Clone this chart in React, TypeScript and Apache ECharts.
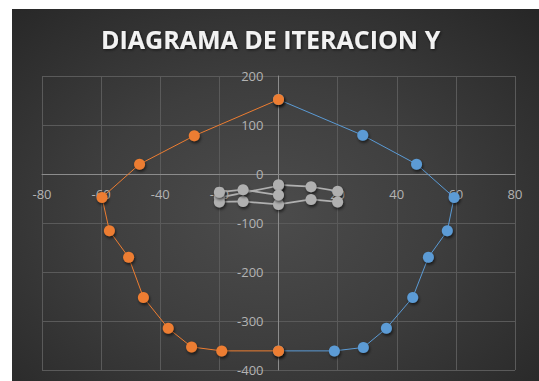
import React, { useEffect, useRef } from "react";
import * as echarts from "echarts";

const titleText = "DIAGRAMA DE ITERACION Y";

const blueX = [0, 28.5, 46.7, 59.4, 57.1, 50.7, 45.4, 36.5, 28.7, 18.9, 0];
const blueY = [152, 79, 20, -48, -116, -170, -252, -315, -354, -361, -361];

const orangeX = [0, -28.5, -47, -59.7, -57.2, -50.7, -45.7, -37.3, -29.4, -19.2, 0];
const orangeY = [152, 78, 20, -48, -116, -170, -252, -315, -353, -361, -361];

const grayAX = [0, 11, 20, 20, 11, 0, -12, -20, -20, -12, 0];
const grayAY = [-22, -26, -35, -57, -52, -62, -56, -57, -37, -32, -43];

const grayBX = [-20, 0];
const grayBY = [-48, -24];

const xMin = -80, xMax = 80, xStep = 20;
const yMin = -400, yMax = 200, yStep = 100;

const zip = (xs: number[], ys: number[]) => xs.map((x, i) => [x, ys[i]]);

export default function App() {
  const ref = useRef<HTMLDivElement>(null);
  useEffect(() => {
    if (!ref.current) return;
    const chart = echarts.init(ref.current, null, { renderer: "svg" });
    const W = 527, H = 372;
    const gl = 30, gr = 24, gt = 67, gb = 11;
    const gw = W - gl - gr, gh = H - gt - gb;
    // move axes (with labels) to the zero of the other axis
    const xOffset = -(gh * (0 - yMin) / (yMax - yMin));
    const yOffset = -(gw * (0 - xMin) / (xMax - xMin));
    const markerShadow = {
      shadowBlur: 3,
      shadowColor: "rgba(0,0,0,0.6)",
      shadowOffsetX: 1,
      shadowOffsetY: 2,
    };
    const mk = (name: string, data: number[][], color: string, lw: number, z: number) => ({
      name,
      type: "line",
      data,
      symbol: "circle",
      symbolSize: 11,
      z,
      lineStyle: { color, width: lw },
      itemStyle: { color, ...markerShadow },
    });
    const labelStyle = {
      color: "#B3B3B3",
      fontFamily: "Open Sans",
      fontSize: 13,
    };
    chart.setOption({
      animation: false,
      backgroundColor: "transparent",
      title: {
        text: titleText,
        left: 84,
        top: 12,
        textStyle: {
          color: "#F2F2F2",
          fontFamily: "Open Sans",
          fontWeight: "bold",
          fontSize: 25,
          textShadowColor: "rgba(0,0,0,0.6)",
          textShadowBlur: 3,
          textShadowOffsetX: 1,
          textShadowOffsetY: 1,
        },
      },
      grid: { left: gl, right: gr, top: gt, bottom: gb },
      xAxis: {
        type: "value",
        position: "bottom",
        offset: xOffset,
        min: xMin,
        max: xMax,
        interval: xStep,
        axisLine: { onZero: false, lineStyle: { color: "#8C8C8C", width: 1 } },
        axisTick: { show: false },
        axisLabel: { ...labelStyle, margin: 13 },
        splitLine: { lineStyle: { color: "#5A5A5A", width: 1 } },
      },
      yAxis: {
        type: "value",
        position: "left",
        offset: yOffset,
        min: yMin,
        max: yMax,
        interval: yStep,
        axisLine: { show: true, onZero: false, lineStyle: { color: "#8C8C8C", width: 1 } },
        axisTick: { show: false },
        axisLabel: { ...labelStyle, margin: 15 },
        splitLine: { lineStyle: { color: "#5A5A5A", width: 1 } },
      },
      series: [
        mk("grayB", zip(grayBX, grayBY), "#B0B0B0", 1.75, 2),
        mk("grayA", zip(grayAX, grayAY), "#B0B0B0", 1.75, 2),
        mk("blue", zip(blueX, blueY), "#5B9BD5", 1, 3),
        mk("orange", zip(orangeX, orangeY), "#ED7D31", 1, 4),
      ],
    });
    return () => chart.dispose();
  }, []);
  return (
    <div style={{ position: "fixed", left: 0, top: 0, width: 539, height: 381, background: "#FFFFFF" }}>
      <div
        ref={ref}
        style={{
          position: "absolute",
          left: 12,
          top: 9,
          width: 527,
          height: 372,
          background: "radial-gradient(ellipse at 48% 55%, #4C4C4C 0%, #3E3E3E 45%, #262626 100%)",
        }}
      />
    </div>
  );
}
